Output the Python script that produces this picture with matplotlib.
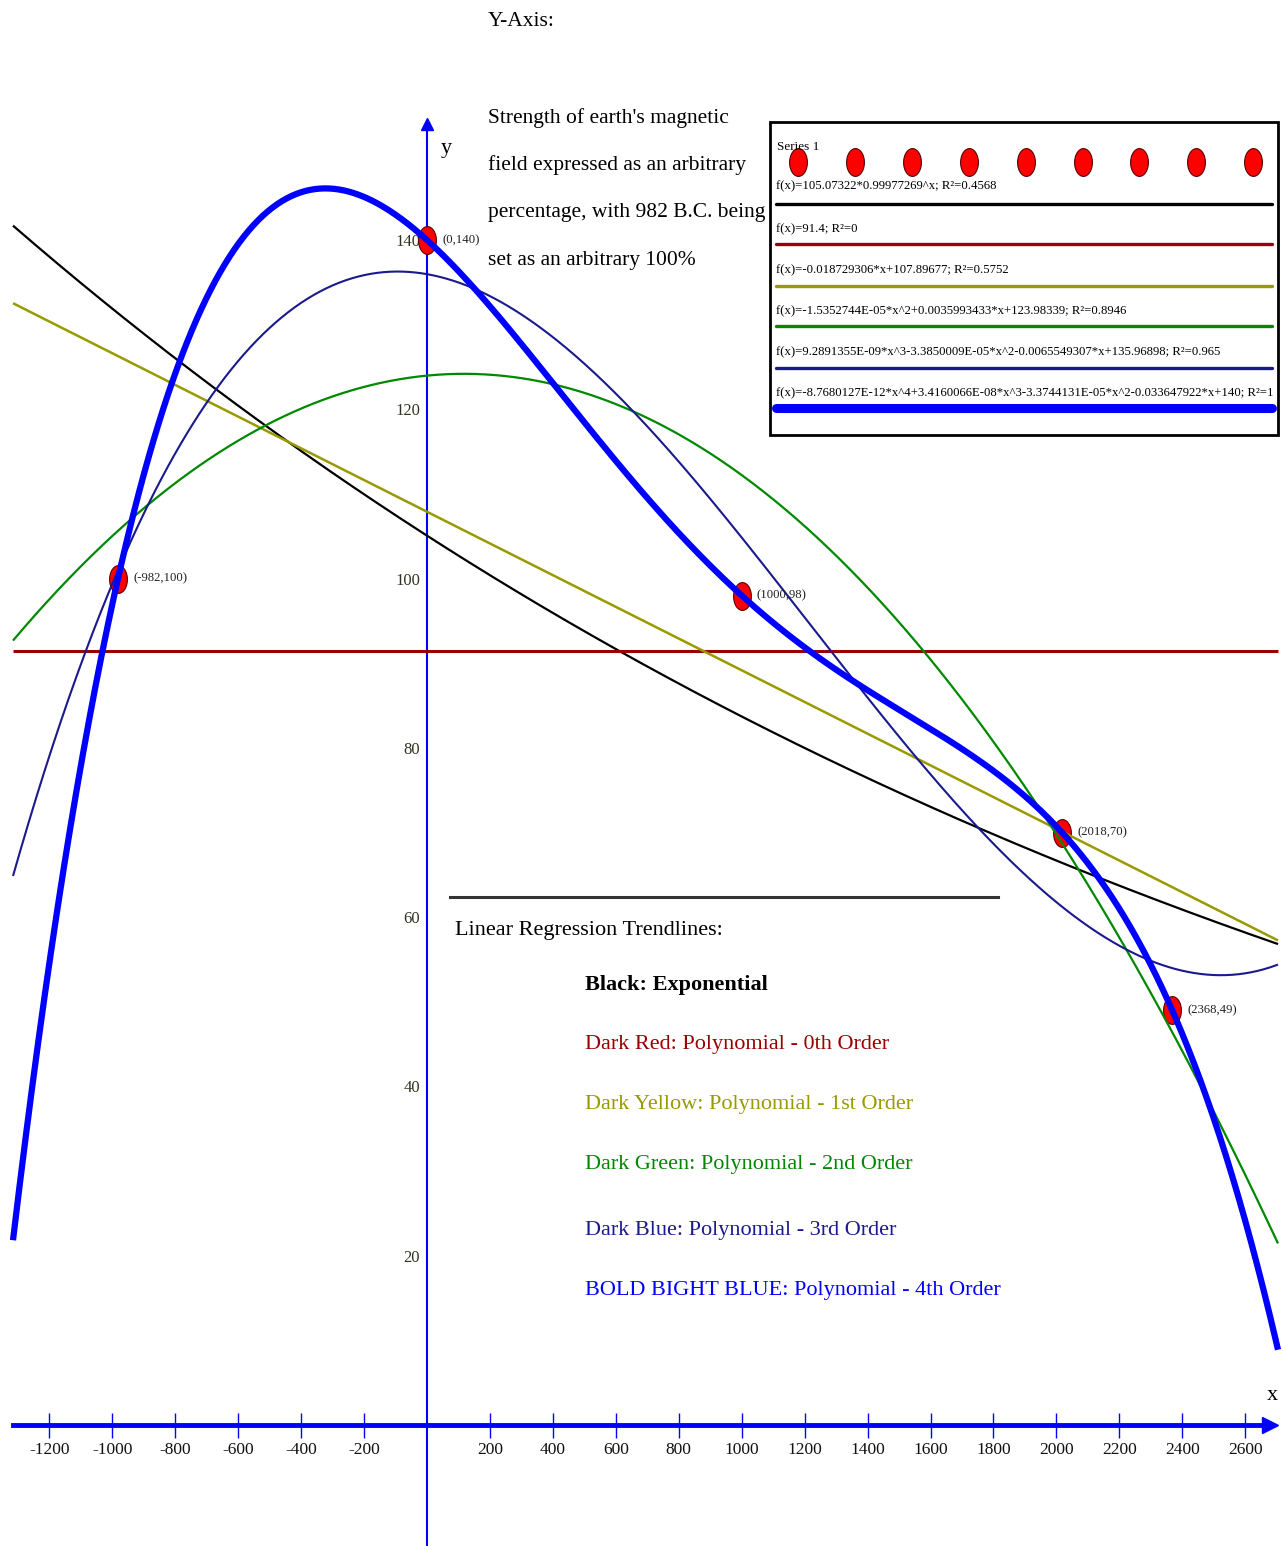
import numpy as np
import matplotlib
matplotlib.use("Agg")
import matplotlib.pyplot as plt
from matplotlib.path import Path
from matplotlib.lines import Line2D
from matplotlib.patches import Rectangle

# ---------------- data ----------------
point_x = [-982, 0, 1000, 2018, 2368]
point_y = [100, 140, 98, 70, 49]
point_labels = ["(-982,100)", "(0,140)", "(1000,98)", "(2018,70)", "(2368,49)"]

exp_coef = [105.07322, 0.99977269]                      # a * b^x
poly0 = [91.4]
poly1 = [-0.018729306, 107.89677]
poly2 = [-1.5352744E-05, 0.0035993433, 123.98339]
poly3 = [9.2891355E-09, -3.3850009E-05, -0.0065549307, 135.96898]
poly4 = [-8.7680127E-12, 3.4160066E-08, -3.3744131E-05, -0.033647922, 140]

formulas = [
    "f(x)=105.07322*0.99977269^x; R²=0.4568",
    "f(x)=91.4; R²=0",
    "f(x)=-0.018729306*x+107.89677; R²=0.5752",
    "f(x)=-1.5352744E-05*x^2+0.0035993433*x+123.98339; R²=0.8946",
    "f(x)=9.2891355E-09*x^3-3.3850009E-05*x^2-0.0065549307*x+135.96898; R²=0.965",
    "f(x)=-8.7680127E-12*x^4+3.4160066E-08*x^3-3.3744131E-05*x^2-0.033647922*x+140; R²=1",
]
xticks = [-1200, -1000, -800, -600, -400, -200, 200, 400, 600, 800, 1000,
          1200, 1400, 1600, 1800, 2000, 2200, 2400, 2600]
yticks = [20, 40, 60, 80, 100, 120, 140]

legend_lines = [
    ("Linear Regression Trendlines:", "black", "normal"),
    ("Black: Exponential", "black", "bold"),
    ("Dark Red: Polynomial - 0th Order", "#990000", "normal"),
    ("Dark Yellow: Polynomial - 1st Order", "#999900", "normal"),
    ("Dark Green: Polynomial - 2nd Order", "#008800", "normal"),
    ("Dark Blue: Polynomial - 3rd Order", "#1a1a8c", "normal"),
    ("BOLD BIGHT BLUE: Polynomial - 4th Order", "#0000ff", "normal"),
]

colors = ["black", "#990000", "#999900", "#008800", "#1a1a8c", "#0000ff"]
widths = [1.6, 2.2, 1.8, 1.6, 1.5, 4.5]

FONT = "Liberation Serif"
plt.rcParams["font.family"] = [FONT, "DejaVu Serif"]

W, H = 1281, 1546
fig = plt.figure(figsize=(W / 100, H / 100), dpi=100)
ax = fig.add_axes([0, 0, 1, 1])

# pixel mapping
x0px, sx = 427.0, 0.3147
y0px, sy = 1425.0, 8.464
ax.set_xlim(-x0px / sx, (W - x0px) / sx)
ax.set_ylim(-(H - y0px) / sy, y0px / sy)

def fx(px):
    return px / W

def fy(py):
    return 1 - py / H

# ---------------- curves ----------------
xmin_c, xmax_c = (13 - x0px) / sx, (1278 - x0px) / sx
xs = np.linspace(xmin_c, xmax_c, 800)
curves = [
    exp_coef[0] * exp_coef[1] ** xs,
    np.polyval(poly0, xs) * np.ones_like(xs),
    np.polyval(poly1, xs),
    np.polyval(poly2, xs),
    np.polyval(poly3, xs),
    np.polyval(poly4, xs),
]

# ellipse marker
t = np.linspace(0, 2 * np.pi, 60)
ell = Path(np.column_stack([0.64 * np.cos(t), np.sin(t)]), closed=True)

ax.plot(point_x, point_y, linestyle="none", marker=ell, markersize=20,
        markerfacecolor="#ff0000", markeredgecolor="#550000",
        markeredgewidth=0.8, zorder=3)

for i, (yv, c, lw) in enumerate(zip(curves, colors, widths)):
    ax.plot(xs, yv, color=c, lw=lw, zorder=4 + i, solid_capstyle="butt")

for px_, py_, lab in zip(point_x, point_y, point_labels):
    ax.annotate(lab, (px_, py_), xytext=(11, 0), textcoords="offset points",
                fontsize=9.2, va="center", ha="left", color="#222222", zorder=12)

# ---------------- axes ----------------
for s in ["top", "right"]:
    ax.spines[s].set_visible(False)
ax.spines["bottom"].set_position(("data", 0))
ax.spines["left"].set_position(("data", 0))
ax.spines["bottom"].set_color("blue")
ax.spines["left"].set_color("blue")
ax.spines["bottom"].set_linewidth(3.5)
ax.spines["left"].set_linewidth(1.5)
ax.spines["bottom"].set_bounds(xmin_c, (1268 - x0px) / sx)
ax.spines["left"].set_bounds(-(H - y0px) / sy, (y0px - 128) / sy)
ax.spines["bottom"].set_zorder(2)
ax.spines["left"].set_zorder(2)

ax.plot([(1270 - x0px) / sx], [0], marker=">", color="blue", markersize=11,
        clip_on=False, zorder=2)
ax.plot([0], [(y0px - 124) / sy], marker="^", color="blue", markersize=9,
        clip_on=False, zorder=2)

ax.set_xticks(xticks)
ax.set_xticklabels([str(v) for v in xticks])
ax.set_yticks(yticks)
ax.set_yticklabels([str(v) for v in yticks])
ax.tick_params(axis="x", direction="inout", length=18, width=1, color="blue",
               pad=3, labelsize=12.5, labelcolor="#111111")
ax.tick_params(axis="y", length=0, pad=5, labelsize=12, labelcolor="#333322")

fig.text(fx(446), fy(148), "y", fontsize=16, ha="center", va="center")
fig.text(fx(1272), fy(1395), "x", fontsize=16, ha="center", va="center")

# ---------------- header text ----------------
fig.text(fx(488), fy(22), "Y-Axis:", fontsize=15.5, ha="left", va="center")
para = ["Strength of earth's magnetic",
        "field expressed as an arbitrary",
        "percentage, with 982 B.C. being",
        "set as an arbitrary 100%"]
for ln, yy in zip(para, [118, 165, 213, 260]):
    fig.text(fx(488), fy(yy), ln, fontsize=15.5, ha="left", va="center")

# ---------------- legend box ----------------
fig.add_artist(Rectangle((fx(770), fy(435)), fx(1278) - fx(770), fy(122) - fy(435),
                         transform=fig.transFigure, facecolor="white",
                         edgecolor="black", linewidth=2, zorder=20))
fig.text(fx(777), fy(147), "Series 1", fontsize=9.5, ha="left", va="center", zorder=22)
for k in range(9):
    fig.add_artist(Line2D([fx(798 + 56.9 * k)], [fy(162)], marker=ell, markersize=20,
                          markerfacecolor="#ff0000", markeredgecolor="#550000",
                          markeredgewidth=0.8, linestyle="none",
                          transform=fig.transFigure, zorder=21))
text_y = [186, 229, 270, 311, 352, 393]
line_y = [204, 244, 286, 326, 368, 408]
leg_w = [2.4, 2.4, 2.4, 2.4, 2.4, 6.5]
for ftxt, ty, ly, c, lw in zip(formulas, text_y, line_y, colors, leg_w):
    fig.text(fx(776), fy(ty), ftxt, fontsize=9.2, ha="left", va="center", zorder=22)
    fig.add_artist(Line2D([fx(776), fx(1272)], [fy(ly), fy(ly)], color=c, lw=lw,
                          solid_capstyle="round", transform=fig.transFigure, zorder=21))

# ---------------- trendline legend ----------------
fig.add_artist(Line2D([fx(450), fx(998)], [fy(897), fy(897)], color="#333333",
                      lw=2.2, transform=fig.transFigure, zorder=15))
leg_pos = [(455, 930), (585, 985), (585, 1045), (585, 1105), (585, 1165),
           (585, 1230), (585, 1290)]
for (txt, c, wt), (lx, ly) in zip(legend_lines, leg_pos):
    fig.text(fx(lx), fy(ly), txt, fontsize=16, color=c, fontweight=wt,
             ha="left", va="center", zorder=15)

fig.savefig("out.png", dpi=100)
